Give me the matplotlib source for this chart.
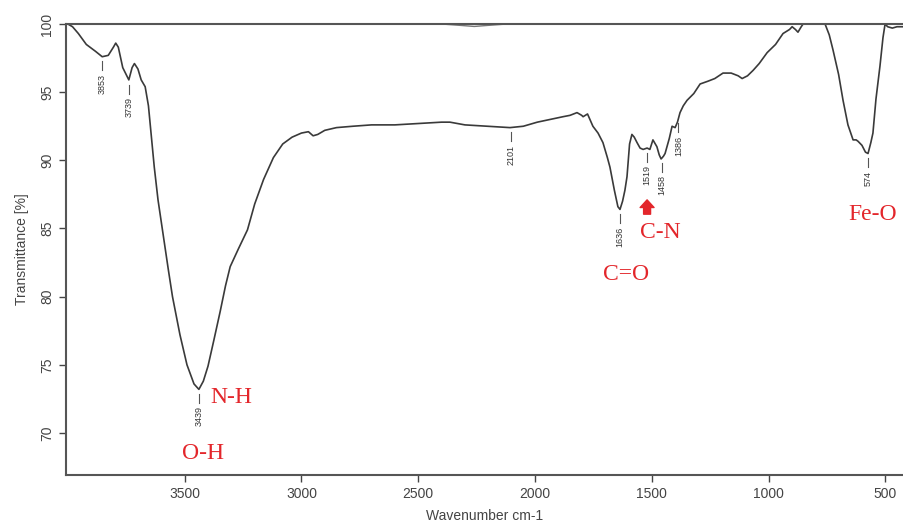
import numpy as np
import matplotlib.pyplot as plt

# FTIR spectrum (wavenumber cm-1, transmittance %)
wavenumber = [4000, 3980, 3955, 3921, 3882, 3853, 3827, 3805, 3795, 3784, 3765, 3739,
              3725, 3715, 3700, 3686, 3669, 3655, 3644, 3630, 3614, 3595, 3570, 3552,
              3520, 3490, 3460, 3439, 3420, 3400, 3375, 3348, 3325, 3305, 3270, 3231,
              3200, 3162, 3120, 3080, 3040, 3000, 2970, 2950, 2930, 2900, 2850, 2780,
              2700, 2600, 2500, 2400, 2364, 2300, 2200, 2107, 2050, 1990, 1936, 1880,
              1850, 1820, 1800, 1794, 1775, 1752, 1730, 1709, 1690, 1679, 1660, 1645,
              1636, 1625, 1615, 1606, 1595, 1585, 1575, 1563, 1550, 1537, 1520, 1508,
              1495, 1485, 1478, 1468, 1460, 1450, 1443, 1425, 1413, 1400, 1390, 1379,
              1365, 1349, 1320, 1293, 1260, 1230, 1195, 1160, 1130, 1113, 1090, 1066,
              1040, 1006, 970, 938, 910, 899, 885, 874, 860, 852, 790, 758,
              740, 724, 700, 681, 660, 638, 625, 617, 600, 585, 574, 562,
              553, 540, 523, 510, 501, 490, 470, 450, 420]
transmittance = [100.0, 99.8, 99.3, 98.5, 98.0, 97.6, 97.7, 98.3, 98.6, 98.3, 96.8, 95.9,
                 96.8, 97.1, 96.7, 95.9, 95.4, 94.0, 92.0, 89.5, 87.1, 84.9, 82.0, 80.0,
                 77.2, 75.0, 73.6, 73.2, 73.8, 74.9, 76.8, 78.9, 80.8, 82.2, 83.5, 84.9,
                 86.8, 88.6, 90.2, 91.2, 91.7, 92.0, 92.1, 91.8, 91.9, 92.2, 92.4, 92.5,
                 92.6, 92.6, 92.7, 92.8, 92.8, 92.6, 92.5, 92.4, 92.5, 92.8, 93.0, 93.2,
                 93.3, 93.5, 93.3, 93.2, 93.4, 92.5, 92.0, 91.3, 90.2, 89.5, 87.8, 86.6,
                 86.4, 87.0, 87.8, 88.8, 91.2, 91.9, 91.7, 91.3, 90.9, 90.8, 90.9, 90.8,
                 91.5, 91.2, 91.0, 90.4, 90.1, 90.3, 90.5, 91.6, 92.5, 92.4, 92.8, 93.5,
                 94.0, 94.4, 94.9, 95.6, 95.8, 96.0, 96.4, 96.4, 96.2, 96.0, 96.2, 96.6,
                 97.1, 97.9, 98.5, 99.3, 99.6, 99.8, 99.6, 99.4, 99.8, 100.0, 100.0, 100.0,
                 99.2, 98.1, 96.3, 94.4, 92.6, 91.5, 91.5, 91.4, 91.1, 90.6, 90.5, 91.3,
                 92.0, 94.5, 96.9, 99.0, 100.0, 99.8, 99.7, 99.8, 99.8]

# second (background) trace sitting on 100 %
base_wn = [4000, 2400, 2320, 2260, 2200, 2120, 400]
base_t = [100.0, 100.0, 99.9, 99.82, 99.9, 100.0, 100.0]

peaks = [3853, 3739, 3439, 2101, 1636, 1519, 1458, 1386, 574]

groups = ["N-H", "O-H", "C=O", "C-N", "Fe-O"]
group_wn = [3392, 3422, 1610, 1465, 660]
group_t = [72.6, 68.5, 81.6, 84.7, 86.0]

red = '#e3262b'
grey = '#3a3a3a'

fig = plt.figure(figsize=(9.04, 5.31), dpi=100)
ax = fig.add_axes([0.073, 0.1055, 0.927, 0.8493])

ax.plot(base_wn, base_t, color='#777777', lw=1.0)
ax.plot(wavenumber, transmittance, color=grey, lw=1.2)

# peak labels: small tick under the curve and vertical number
wn_sorted = wavenumber[::-1]
t_sorted = transmittance[::-1]
for p in peaks:
    t = np.interp(p, wn_sorted, t_sorted)
    ax.plot([p, p], [t - 0.35, t - 1.0], color='#555555', lw=0.8)
    ax.text(p, t - 1.25, str(p), rotation=90, ha='center', va='top',
            fontsize=6.5, color='#333333', family='Liberation Sans')

for g, x, y in zip(groups, group_wn, group_t):
    ha = 'left' if g in ("N-H", "Fe-O") else 'center'
    ax.text(x, y, g, color=red, fontsize=17, family='Liberation Serif',
            ha=ha, va='center')

ax.annotate('', xy=(1520, 87.1), xytext=(1520, 86.05),
            arrowprops=dict(arrowstyle='simple,head_width=1.0,head_length=0.55,tail_width=0.5',
                            color=red, shrinkA=0, shrinkB=0))

ax.set_xlim(4008, 420)
ax.set_ylim(66.92, 100)
ax.set_xticks([3500, 3000, 2500, 2000, 1500, 1000, 500])
ax.set_yticks([70, 75, 80, 85, 90, 95, 100])
ax.tick_params(colors='#444444', labelcolor='#444444', labelsize=10, length=5, width=1)
for lab in ax.get_yticklabels():
    lab.set_rotation(90)
    lab.set_va('center')
for lab in ax.get_xticklabels() + ax.get_yticklabels():
    lab.set_family('Liberation Sans')

ax.spines['right'].set_visible(False)
for s in ['left', 'bottom', 'top']:
    ax.spines[s].set_color('#555555')
    ax.spines[s].set_linewidth(1.5)

ax.set_xlabel('Wavenumber cm-1', fontsize=10, color='#444444', family='Liberation Sans', labelpad=6)
ax.set_ylabel('Transmittance [%]', fontsize=10, color='#444444', family='Liberation Sans', labelpad=8)

fig.savefig('out.png', dpi=100)
